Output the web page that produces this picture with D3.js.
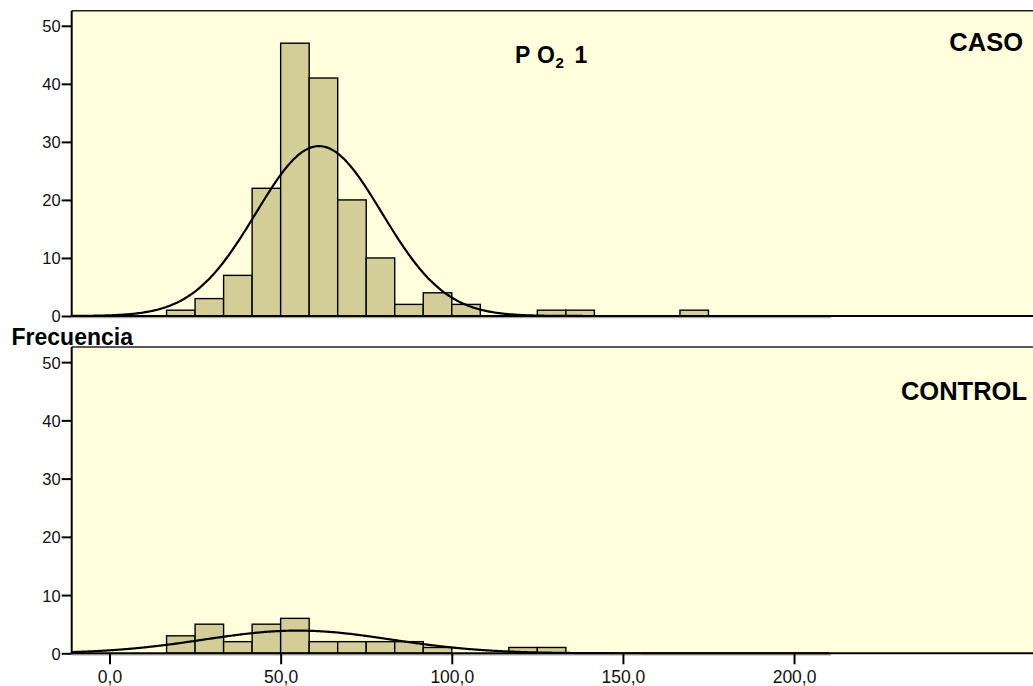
<!DOCTYPE html>
<html>
<head>
<meta charset="utf-8">
<script src="https://cdn.jsdelivr.net/npm/d3@7"></script>
<style>
  html, body { margin: 0; padding: 0; background: #ffffff; }
  svg { display: block; font-family: Arial, "Liberation Sans", sans-serif; }
</style>
</head>
<body>
<svg id="chart" width="1033" height="686"></svg>
<script>
// Histogram bins: each bin spans BIN_WIDTH units, bin k covers [k*BIN_WIDTH, (k+1)*BIN_WIDTH)
const BIN_WIDTH = 50 / 6;

// PO2 1 frequencies, CASO group
const casoBin   = [2, 3, 4, 5, 6, 7, 8, 9, 10, 11, 12, 15, 16, 20];
const casoCount = [1, 3, 7, 22, 47, 41, 20, 10, 2, 4, 2, 1, 1, 1];

// PO2 1 frequencies, CONTROL group
const controlBin   = [2, 3, 4, 5, 6, 7, 8, 9, 10, 11, 14, 15];
const controlCount = [3, 5, 2, 5, 6, 2, 2, 2, 2, 1, 1, 1];

// Fitted normal curve parameters (mean, standard deviation)
const casoFit    = [61.2, 18.4];
const controlFit = [55.0, 27.3];

// Axis ticks
const xTickValues = [0, 50, 100, 150, 200];
const xTickLabels = ["0,0", "50,0", "100,0", "150,0", "200,0"];
const yTickValues = [0, 10, 20, 30, 40, 50];

const W = 1033, H = 686;
const left = 71.7, dataRight = 831, panelRight = W + 5;
const xMin = -11.05, xMax = 210.8, yMax = 52.6;

const BG = "#ffffdd";
const BAR = "#d3ce98";

const svg = d3.select("#chart");
const x = d3.scaleLinear().domain([xMin, xMax]).range([left, dataRight]);

const panels = [
  { label: "CASO", bins: casoBin, counts: casoCount, fit: casoFit,
    top: 10.7, base: 316, labelX: 1023, labelY: 51, showX: false },
  { label: "CONTROL", bins: controlBin, counts: controlCount, fit: controlFit,
    top: 347, base: 653.3, labelX: 1027, labelY: 399.5, showX: true }
];

function normalPdf(v, mu, sd) {
  const z = (v - mu) / sd;
  return Math.exp(-0.5 * z * z) / (sd * Math.sqrt(2 * Math.PI));
}

panels.forEach(p => {
  const y = d3.scaleLinear().domain([0, yMax]).range([p.base, p.top]);
  const g = svg.append("g");

  // plot background
  g.append("rect")
    .attr("x", left).attr("y", p.top)
    .attr("width", panelRight - left).attr("height", p.base - p.top)
    .attr("fill", BG);

  // histogram bars
  const rows = p.bins.map((b, i) => ({ lo: b * BIN_WIDTH, hi: (b + 1) * BIN_WIDTH, n: p.counts[i] }));
  g.selectAll("rect.bar").data(rows).join("rect")
    .attr("class", "bar")
    .attr("x", d => x(d.lo))
    .attr("width", d => x(d.hi) - x(d.lo))
    .attr("y", d => y(d.n))
    .attr("height", d => y(0) - y(d.n))
    .attr("fill", BAR)
    .attr("stroke", "#000")
    .attr("stroke-width", 1.4);

  // normal curve scaled to counts
  const total = d3.sum(p.counts);
  const [mu, sd] = p.fit;
  const pts = d3.range(xMin, xMax + 0.001, 0.5).map(v => [v, total * BIN_WIDTH * normalPdf(v, mu, sd)]);
  g.append("path")
    .datum(pts)
    .attr("fill", "none")
    .attr("stroke", "#000")
    .attr("stroke-width", 2.2)
    .attr("d", d3.line().x(d => x(d[0])).y(d => y(d[1])).curve(d3.curveBasis));

  // grey data-range baseline under the axis
  g.append("line")
    .attr("x1", left).attr("x2", dataRight)
    .attr("y1", p.base + 1.6).attr("y2", p.base + 1.6)
    .attr("stroke", "#a8a8a0").attr("stroke-width", 1.4);

  // frame: top border, left border, bottom axis line
  g.append("line")
    .attr("x1", left).attr("x2", panelRight)
    .attr("y1", p.top).attr("y2", p.top)
    .attr("stroke", "#222").attr("stroke-width", 1.6);
  g.append("line")
    .attr("x1", left).attr("x2", panelRight)
    .attr("y1", p.base).attr("y2", p.base)
    .attr("stroke", "#000").attr("stroke-width", 2);
  g.append("line")
    .attr("x1", left).attr("x2", left)
    .attr("y1", p.top).attr("y2", p.base)
    .attr("stroke", "#000").attr("stroke-width", 2);

  // y axis
  const ya = g.append("g")
    .attr("transform", `translate(${left},0)`)
    .call(d3.axisLeft(y).tickValues(yTickValues).tickSize(10).tickPadding(1));
  ya.select(".domain").remove();
  ya.selectAll(".tick line").attr("stroke", "#000").attr("stroke-width", 2);
  ya.selectAll(".tick text")
    .attr("font-family", "Arial, 'Liberation Sans', sans-serif")
    .attr("font-size", 16.5).attr("fill", "#111").attr("dy", "0.36em");

  // x axis (lower panel only)
  if (p.showX) {
    const xa = g.append("g")
      .attr("transform", `translate(0,${p.base})`)
      .call(d3.axisBottom(x).tickValues(xTickValues)
        .tickFormat((d, i) => xTickLabels[i]).tickSize(11).tickPadding(6.4));
    xa.select(".domain").remove();
    xa.selectAll(".tick line").attr("stroke", "#000").attr("stroke-width", 2);
    xa.selectAll(".tick text")
      .attr("font-family", "Arial, 'Liberation Sans', sans-serif")
      .attr("font-size", 17.5).attr("fill", "#111");
  }

  // group label
  g.append("text")
    .attr("x", p.labelX).attr("y", p.labelY)
    .attr("text-anchor", "end")
    .attr("font-size", 25.5).attr("font-weight", "bold").attr("fill", "#000")
    .text(p.label);
});

// variable title: P O2 1
const title = svg.append("text")
  .attr("y", 63)
  .attr("font-size", 23).attr("font-weight", "bold").attr("fill", "#000");
title.append("tspan").attr("x", 515).text("P");
title.append("tspan").attr("x", 537).text("O");
title.append("tspan").attr("x", 555.5).attr("dy", 5.2).attr("font-size", 15).text("2");
title.append("tspan").attr("x", 574.5).attr("dy", -5.2).text("1");

// shared y-axis title
svg.append("text")
  .attr("x", 11.5).attr("y", 345)
  .attr("font-size", 23).attr("font-weight", "bold").attr("fill", "#000")
  .text("Frecuencia");
</script>
</body>
</html>
